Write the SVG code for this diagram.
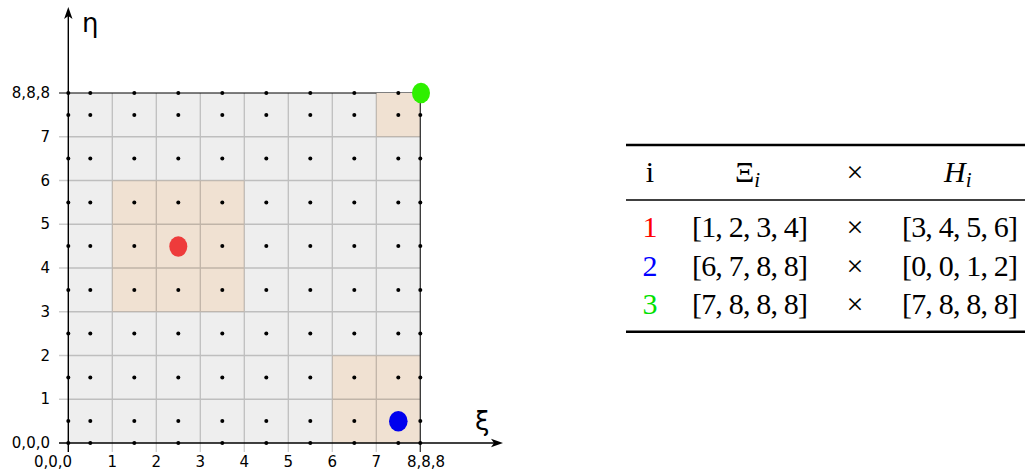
<svg xmlns="http://www.w3.org/2000/svg" width="1025" height="476" viewBox="0 0 1025 476">
<style>
.tick{font-family:"DejaVu Sans",sans-serif;font-size:15px;fill:#000}
.axl{font-family:"DejaVu Sans",sans-serif;font-size:26px;fill:#000}
.grid{stroke:#000;stroke-opacity:0.2;stroke-width:1.3;fill:none}
.tan{fill:#f0e1d2}
.d{fill:#000}
.tb{font-family:"Liberation Serif","Times New Roman",serif;font-size:30px;fill:#000}
.sub{font-size:21px;font-style:italic}
.rule{stroke:#000;fill:none}
</style>
<defs>
<circle id="dt" r="2"/>
</defs>
<g id="plot">
<rect x="68.3" y="93" width="352" height="350" fill="#eeeeee"/>
<line x1="59" y1="93" x2="420.3" y2="93" stroke="#000" stroke-width="1.2"/>
<g id="regions">
<rect class="tan" x="112.3" y="180.5" width="132" height="131.25"/>
<rect class="tan" x="332.3" y="355.5" width="88" height="87.5"/>
<rect class="tan" x="376.3" y="93" width="44" height="43.75"/>
</g>
<path class="grid" d="M112.3 93V452M156.3 93V452M200.3 93V452M244.3 93V452M288.3 93V452M332.3 93V452M376.3 93V452M59 399.25H420.3M59 355.5H420.3M59 311.75H420.3M59 268H420.3M59 224.25H420.3M59 180.5H420.3M59 136.75H420.3"/>
<line x1="420.3" y1="93" x2="420.3" y2="452" stroke="#333" stroke-width="1.3"/>
</g>
<g id="axes">
<line x1="68.3" y1="452" x2="68.3" y2="14" stroke="#000" stroke-width="1.4"/>
<polygon points="68.3,7 72.5,19 68.3,16 64.1,19" fill="#000"/>
<line x1="59" y1="443" x2="496" y2="443" stroke="#000" stroke-width="1.4"/>
<polygon points="503,443 491,447.2 494,443 491,438.8" fill="#000"/>
<text class="axl" x="82" y="32">η</text>
<text class="axl" x="475" y="430">ξ</text>
</g>
<g id="yticks" class="tick" text-anchor="end">
<text x="50" y="98">8,8,8</text>
<text x="50" y="141.75">7</text>
<text x="50" y="185.5">6</text>
<text x="50" y="229.25">5</text>
<text x="50" y="273">4</text>
<text x="50" y="316.75">3</text>
<text x="50" y="360.5">2</text>
<text x="50" y="404.25">1</text>
<text x="50" y="448">0,0,0</text>
</g>
<g id="xticks" class="tick" text-anchor="middle">
<text x="53" y="467">0,0,0</text>
<text x="112.3" y="467">1</text>
<text x="156.3" y="467">2</text>
<text x="200.3" y="467">3</text>
<text x="244.3" y="467">4</text>
<text x="288.3" y="467">5</text>
<text x="332.3" y="467">6</text>
<text x="376.3" y="467">7</text>
<text x="426" y="467">8,8,8</text>
</g>
<g id="dots" class="d">
<use href="#dt" x="68.3" y="443"/><use href="#dt" x="90.3" y="443"/><use href="#dt" x="134.3" y="443"/><use href="#dt" x="178.3" y="443"/><use href="#dt" x="222.3" y="443"/><use href="#dt" x="266.3" y="443"/><use href="#dt" x="310.3" y="443"/><use href="#dt" x="354.3" y="443"/><use href="#dt" x="398.3" y="443"/><use href="#dt" x="420.3" y="443"/>
<use href="#dt" x="68.3" y="421.1"/><use href="#dt" x="90.3" y="421.1"/><use href="#dt" x="134.3" y="421.1"/><use href="#dt" x="178.3" y="421.1"/><use href="#dt" x="222.3" y="421.1"/><use href="#dt" x="266.3" y="421.1"/><use href="#dt" x="310.3" y="421.1"/><use href="#dt" x="354.3" y="421.1"/><use href="#dt" x="420.3" y="421.1"/>
<use href="#dt" x="68.3" y="377.4"/><use href="#dt" x="90.3" y="377.4"/><use href="#dt" x="134.3" y="377.4"/><use href="#dt" x="178.3" y="377.4"/><use href="#dt" x="222.3" y="377.4"/><use href="#dt" x="266.3" y="377.4"/><use href="#dt" x="310.3" y="377.4"/><use href="#dt" x="354.3" y="377.4"/><use href="#dt" x="398.3" y="377.4"/><use href="#dt" x="420.3" y="377.4"/>
<use href="#dt" x="68.3" y="333.6"/><use href="#dt" x="90.3" y="333.6"/><use href="#dt" x="134.3" y="333.6"/><use href="#dt" x="178.3" y="333.6"/><use href="#dt" x="222.3" y="333.6"/><use href="#dt" x="266.3" y="333.6"/><use href="#dt" x="310.3" y="333.6"/><use href="#dt" x="354.3" y="333.6"/><use href="#dt" x="398.3" y="333.6"/><use href="#dt" x="420.3" y="333.6"/>
<use href="#dt" x="68.3" y="289.9"/><use href="#dt" x="90.3" y="289.9"/><use href="#dt" x="134.3" y="289.9"/><use href="#dt" x="178.3" y="289.9"/><use href="#dt" x="222.3" y="289.9"/><use href="#dt" x="266.3" y="289.9"/><use href="#dt" x="310.3" y="289.9"/><use href="#dt" x="354.3" y="289.9"/><use href="#dt" x="398.3" y="289.9"/><use href="#dt" x="420.3" y="289.9"/>
<use href="#dt" x="68.3" y="246.1"/><use href="#dt" x="90.3" y="246.1"/><use href="#dt" x="134.3" y="246.1"/><use href="#dt" x="222.3" y="246.1"/><use href="#dt" x="266.3" y="246.1"/><use href="#dt" x="310.3" y="246.1"/><use href="#dt" x="354.3" y="246.1"/><use href="#dt" x="398.3" y="246.1"/><use href="#dt" x="420.3" y="246.1"/>
<use href="#dt" x="68.3" y="202.4"/><use href="#dt" x="90.3" y="202.4"/><use href="#dt" x="134.3" y="202.4"/><use href="#dt" x="178.3" y="202.4"/><use href="#dt" x="222.3" y="202.4"/><use href="#dt" x="266.3" y="202.4"/><use href="#dt" x="310.3" y="202.4"/><use href="#dt" x="354.3" y="202.4"/><use href="#dt" x="398.3" y="202.4"/><use href="#dt" x="420.3" y="202.4"/>
<use href="#dt" x="68.3" y="158.6"/><use href="#dt" x="90.3" y="158.6"/><use href="#dt" x="134.3" y="158.6"/><use href="#dt" x="178.3" y="158.6"/><use href="#dt" x="222.3" y="158.6"/><use href="#dt" x="266.3" y="158.6"/><use href="#dt" x="310.3" y="158.6"/><use href="#dt" x="354.3" y="158.6"/><use href="#dt" x="398.3" y="158.6"/><use href="#dt" x="420.3" y="158.6"/>
<use href="#dt" x="68.3" y="114.9"/><use href="#dt" x="90.3" y="114.9"/><use href="#dt" x="134.3" y="114.9"/><use href="#dt" x="178.3" y="114.9"/><use href="#dt" x="222.3" y="114.9"/><use href="#dt" x="266.3" y="114.9"/><use href="#dt" x="310.3" y="114.9"/><use href="#dt" x="354.3" y="114.9"/><use href="#dt" x="398.3" y="114.9"/><use href="#dt" x="420.3" y="114.9"/>
<use href="#dt" x="68.3" y="93"/><use href="#dt" x="90.3" y="93"/><use href="#dt" x="134.3" y="93"/><use href="#dt" x="178.3" y="93"/><use href="#dt" x="222.3" y="93"/><use href="#dt" x="266.3" y="93"/><use href="#dt" x="310.3" y="93"/><use href="#dt" x="354.3" y="93"/><use href="#dt" x="398.3" y="93"/>
</g>
<g id="points">
<ellipse id="p1" cx="178.3" cy="246.5" rx="9" ry="10.3" fill="#ee3b3b"/>
<ellipse id="p2" cx="398.3" cy="421.3" rx="9.3" ry="10.3" fill="#0000ee"/>
<ellipse id="p3" cx="421" cy="93" rx="9" ry="10.3" fill="#2ef000"/>
</g>
<g id="table" class="tb">
<line class="rule" x1="626" y1="145" x2="1025" y2="145" stroke-width="2.4"/>
<line class="rule" x1="626" y1="200" x2="1025" y2="200" stroke-width="1.4"/>
<line class="rule" x1="626" y1="331.7" x2="1025" y2="331.7" stroke-width="2.4"/>
<text x="650" y="182" text-anchor="middle">i</text>
<text x="735" y="182">Ξ<tspan class="sub" dy="5">i</tspan></text>
<text x="855" y="182" text-anchor="middle">×</text>
<text x="944" y="182" font-style="italic">H<tspan class="sub" dy="5">i</tspan></text>
<text x="650" y="237" text-anchor="middle" fill="#ff0000">1</text>
<text x="692" y="237" textLength="116" lengthAdjust="spacing">[1, 2, 3, 4]</text>
<text x="855" y="237" text-anchor="middle">×</text>
<text x="902" y="237" textLength="116" lengthAdjust="spacing">[3, 4, 5, 6]</text>
<text x="650" y="276" text-anchor="middle" fill="#0000ff">2</text>
<text x="692" y="276" textLength="116" lengthAdjust="spacing">[6, 7, 8, 8]</text>
<text x="855" y="276" text-anchor="middle">×</text>
<text x="902" y="276" textLength="116" lengthAdjust="spacing">[0, 0, 1, 2]</text>
<text x="650" y="314" text-anchor="middle" fill="#00e000">3</text>
<text x="692" y="314" textLength="116" lengthAdjust="spacing">[7, 8, 8, 8]</text>
<text x="855" y="314" text-anchor="middle">×</text>
<text x="902" y="314" textLength="116" lengthAdjust="spacing">[7, 8, 8, 8]</text>
</g>
</svg>
